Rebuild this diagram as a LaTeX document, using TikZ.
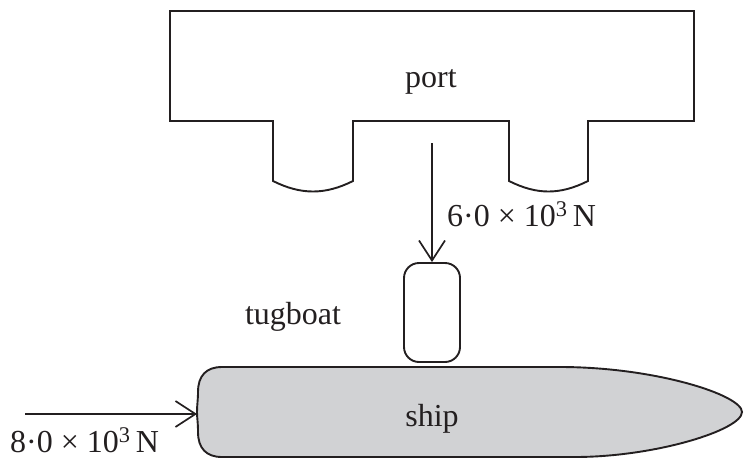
\documentclass[tikz,border=0pt]{standalone}
\usepackage{fontspec}
\setmainfont{Liberation Serif}
\usetikzlibrary{arrows.meta}
\definecolor{ink}{RGB}{35,31,32}
\definecolor{hull}{RGB}{209,210,212}
\begin{document}
\begin{tikzpicture}[x=1pt,y=-1pt,
  outline/.style={draw=ink,line width=1.9pt,line join=miter},
  force/.style={draw=ink,line width=1.7pt,-{Straight Barb[length=20pt,width=26pt,line width=1.7pt]}},
  lbl/.style={text=ink,font=\fontsize{32}{34}\selectfont,inner sep=0pt}]
\useasboundingbox (0,0) rectangle (744,458);
% port
\draw[outline] (170,11) -- (694,11) -- (694,121) -- (588,121) -- (588,181)
  .. controls (560,195) and (537,195) .. (509,181) -- (509,121) -- (353,121) -- (353,181)
  .. controls (325,195) and (301,195) .. (273,181) -- (273,121) -- (170,121) -- cycle;
\node[lbl,anchor=base] (port) at (431,87) {port};
% ship
\draw[outline,fill=hull] (222,367) -- (560,367)
  .. controls (655,367) and (742,395) .. (742,412)
  .. controls (742,430) and (655,457) .. (575,457) -- (222,457)
  .. controls (206,457) and (198,448) .. (198,432)
  .. controls (198,422) and (197,418) .. (197,412)
  .. controls (197,405) and (198,400) .. (198,392)
  .. controls (198,376) and (206,367) .. (222,367) -- cycle;
\node[lbl,anchor=base] (ship) at (432,426) {ship};
% tugboat
\node[outline,rounded corners=15pt,minimum width=56pt,minimum height=99pt,inner sep=0pt] (tug) at (432,312.5) {};
\node[lbl,anchor=base] (tuglbl) at (293,324) {tugboat};
% forces
\coordinate (ftop) at (432,143);
\draw[force] (ftop) -- (tug.north);
\node[lbl,anchor=base west] (f1) at (447,226) {6·0 × 10\textsuperscript{3}\,N};
\coordinate (fleft) at (25,414);
\coordinate (shipleft) at (197,414);
\draw[force] (fleft) -- (shipleft);
\node[lbl,anchor=base west] (f2) at (10,452) {8·0 × 10\textsuperscript{3}\,N};
\end{tikzpicture}
\end{document}
